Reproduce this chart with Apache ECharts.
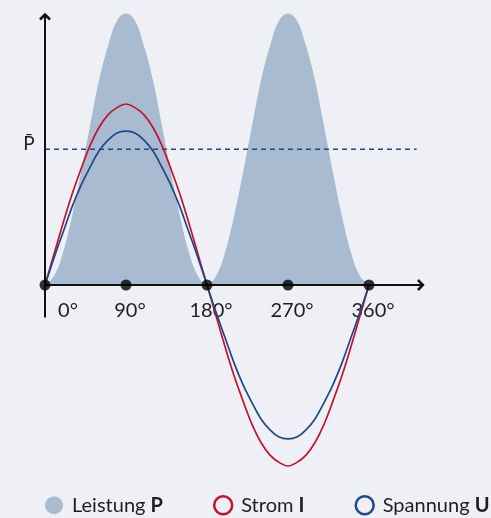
<!DOCTYPE html>
<html>
<head>
<meta charset="utf-8">
<script src="https://cdn.jsdelivr.net/npm/echarts@6/dist/echarts.min.js"></script>
<style>
html,body{margin:0;padding:0;background:#eff0f5;}
#c{width:491px;height:518px;}
</style>
</head>
<body>
<div id="c"></div>
<script>
// ---- data ----
const angles = [0,10,20,30,40,50,60,70,80,90,100,110,120,130,140,150,160,170,180,
  190,200,210,220,230,240,250,260,270,280,290,300,310,320,330,340,350,360];
const powerP = [0,0.05,0.18,0.38,0.62,0.88,1.13,1.32,1.46,1.50,1.46,1.32,1.13,0.88,0.62,0.38,0.18,0.05,0,
  0.05,0.18,0.38,0.62,0.88,1.13,1.32,1.46,1.50,1.46,1.32,1.13,0.88,0.62,0.38,0.18,0.05,0];
const currentI = [0,0.17,0.34,0.50,0.64,0.77,0.87,0.94,0.98,1.00,0.98,0.94,0.87,0.77,0.64,0.50,0.34,0.17,0,
  -0.17,-0.34,-0.50,-0.64,-0.77,-0.87,-0.94,-0.98,-1.00,-0.98,-0.94,-0.87,-0.77,-0.64,-0.50,-0.34,-0.17,0];
const voltageU = [0,0.15,0.29,0.43,0.55,0.65,0.74,0.80,0.84,0.85,0.84,0.80,0.74,0.65,0.55,0.43,0.29,0.15,0,
  -0.15,-0.29,-0.43,-0.55,-0.65,-0.74,-0.80,-0.84,-0.85,-0.84,-0.80,-0.74,-0.65,-0.55,-0.43,-0.29,-0.15,0];
const meanP = 0.75;
const markAngles = [0,90,180,270,360];
const tickLabels = ['0°','90°','180°','270°','360°'];
const seriesNames = ['Leistung P','Strom I','Spannung U'];

// ---- layout / style constants ----
const X_MAX = 421, Y_MIN = -1.05, Y_MAX = 1.55, PX_PER_UNIT = 181;
const Y_AXIS_TOP = 1.50, Y_AXIS_BOTTOM = -0.18, DASH_END = 413;
const C_FILL = '#a9bbd1', C_RED = '#c8102e', C_BLUE = '#1a4a8a', C_AX = '#111111', C_TXT = '#1e1e1e';
const FONT = 'Lato, "Open Sans", sans-serif';

const pairs = (ys) => angles.map((a,i) => [a, ys[i]]);

const chart = echarts.init(document.getElementById('c'), null, {renderer:'canvas'});
chart.setOption({
  backgroundColor: '#eff0f5',
  animation: false,
  grid: {left:45, right:491-45-X_MAX*0.9, top:285-Y_MAX*PX_PER_UNIT, height:(Y_MAX-Y_MIN)*PX_PER_UNIT},
  xAxis: {
    type:'value', min:0, max:X_MAX, interval:90, position:'bottom',
    offset: Y_MIN*PX_PER_UNIT,
    axisLine:{show:false, onZero:false},
    axisTick:{show:false}, splitLine:{show:false},
    axisLabel:{
      showMaxLabel:false, margin:16,
      formatter: (v) => {
        const k = markAngles.indexOf(v);
        if (k < 0) return '';
        return (v === 0 ? '{z|' : '{a|') + tickLabels[k] + '}';
      },
      rich:{
        a:{fontSize:20, fontFamily:FONT, color:C_TXT, padding:[0,0,0,8]},
        z:{fontSize:20, fontFamily:FONT, color:C_TXT, padding:[0,0,0,46]}
      }
    }
  },
  yAxis: {
    type:'value', min:Y_MIN, max:Y_MAX,
    axisLine:{show:false}, axisTick:{show:false}, splitLine:{show:false}, axisLabel:{show:false}
  },
  legend: {
    left:45, top:495, right:0, padding:0, itemWidth:18, itemHeight:18, itemGap:50,
    selectedMode:false,
    formatter: (name) => {
      const p = name.split(' ');
      return p[0] + ' {b|' + p[1] + '}';
    },
    textStyle:{
      fontSize:20, fontFamily:FONT, color:C_TXT, padding:[0,0,0,4],
      rich:{b:{fontSize:20, fontFamily:FONT, color:C_TXT, fontWeight:'bold'}}
    },
    data:[
      {name:seriesNames[0], icon:'circle', itemStyle:{color:C_FILL, borderWidth:0}},
      {name:seriesNames[1], icon:'circle', itemStyle:{color:'rgba(0,0,0,0)', borderColor:C_RED, borderWidth:2.5}},
      {name:seriesNames[2], icon:'circle', itemStyle:{color:'rgba(0,0,0,0)', borderColor:C_BLUE, borderWidth:2.5}}
    ]
  },
  series: [
    {
      name:seriesNames[0], type:'line', data:pairs(powerP), smooth:0.4, symbol:'none',
      lineStyle:{width:0}, itemStyle:{color:C_FILL},
      areaStyle:{color:C_FILL, opacity:1}, z:1
    },
    {
      name:'mean', type:'line', data:[[0,meanP],[DASH_END,meanP]], symbol:'none',
      lineStyle:{color:C_BLUE, width:1.3, type:[5,4]}, z:2, silent:true
    },
    {
      name:seriesNames[1], type:'line', data:pairs(currentI), smooth:0.4, symbol:'none',
      lineStyle:{color:C_RED, width:1.7}, itemStyle:{color:C_RED}, z:3
    },
    {
      name:seriesNames[2], type:'line', data:pairs(voltageU), smooth:0.4, symbol:'none',
      lineStyle:{color:C_BLUE, width:1.7}, itemStyle:{color:C_BLUE}, z:4
    },
    {
      name:'marks', type:'scatter', data:markAngles.map(a => [a,0]), symbolSize:11,
      itemStyle:{color:'#000'}, z:10, silent:true
    }
  ]
});

// axes with open arrowheads, placed through the chart's own scales
const px = (p) => chart.convertToPixel({gridIndex:0}, p);
const o = px([0,0]);
const yTop = px([0,Y_AXIS_TOP]);
const yBot = px([0,Y_AXIS_BOTTOM]);
const xEnd = px([X_MAX,0]);
const pm = px([0,meanP]);
const axStyle = {stroke:C_AX, lineWidth:2, fill:null};
chart.setOption({
  graphic:[
    {type:'line', z:5, shape:{x1:o[0], y1:yBot[1], x2:o[0], y2:yTop[1]+1}, style:axStyle},
    {type:'polyline', z:5, shape:{points:[[o[0]-5,yTop[1]+6],[o[0],yTop[1]+1],[o[0]+5,yTop[1]+6]]}, style:{stroke:C_AX, lineWidth:2.5, fill:null}},
    {type:'line', z:5, shape:{x1:o[0], y1:o[1], x2:xEnd[0]-1, y2:o[1]}, style:axStyle},
    {type:'polyline', z:5, shape:{points:[[xEnd[0]-6,o[1]-5],[xEnd[0]-1,o[1]],[xEnd[0]-6,o[1]+5]]}, style:{stroke:C_AX, lineWidth:2.5, fill:null}},
    {type:'text', z:5, style:{text:'P\u0304', x:o[0]-16, y:pm[1]-5, align:'center', verticalAlign:'middle',
      fontSize:19, fontFamily:FONT, fill:C_TXT}}
  ]
});
</script>
</body>
</html>
